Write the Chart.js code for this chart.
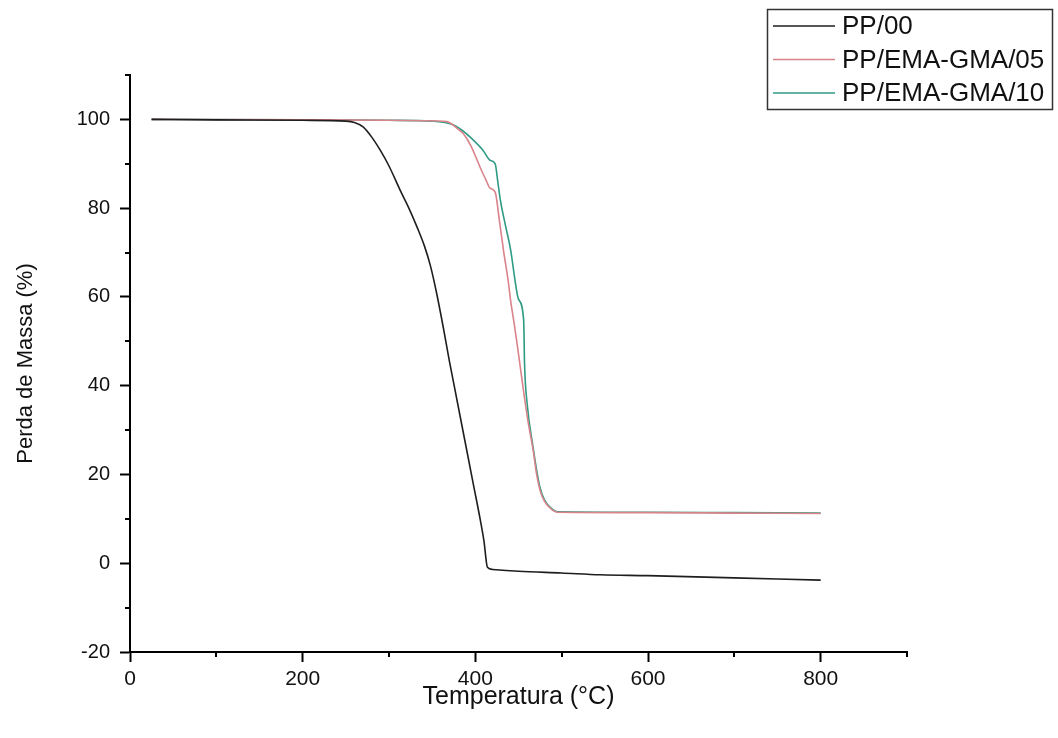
<!DOCTYPE html>
<html>
<head>
<meta charset="utf-8">
<script src="https://cdn.jsdelivr.net/npm/chart.js@4/dist/chart.umd.min.js"></script>
<style>
  html, body { margin: 0; padding: 0; background: #fff; }
  canvas { display: block; }
</style>
</head>
<body>
<canvas id="chart" width="1058" height="738"></canvas>
<script>
// TGA curves: [temperature °C, mass %]
var pp00 = [
	[25, 100], [100, 99.9], [200, 99.8], [250, 99.6], [260, 99.3], [270, 98.3],
	[280, 96], [290, 93], [300, 89.5], [313, 84], [323, 80], [333, 75.5],
	[341, 71.5], [348, 67], [355, 61], [363, 53], [370, 45.5], [376, 39.5],
	[383, 32.5], [391, 24.5], [398, 17.5], [406, 9.5], [410, 5], [414, -0.9],
	[420, -1.4], [450, -1.8], [500, -2.2], [545, -2.6], [600, -2.8],
	[700, -3.3], [800, -3.8]
];
var ppEma05 = [
	[25, 100], [200, 99.9], [300, 99.8], [340, 99.7], [367, 99.5], [380, 97.8],
	[386, 96.8], [395, 94], [406, 89], [412, 86.5], [417, 84.5], [423, 83.6],
	[428, 77], [433, 70], [438, 63.7], [441, 59], [445, 54], [449, 48.6],
	[455, 40], [461, 32], [467, 25.4], [471, 20], [475, 16.4], [480, 14],
	[489, 12], [495, 11.5], [600, 11.4], [700, 11.3], [800, 11.2]
];
var ppEma10 = [
	[25, 100], [200, 99.9], [300, 99.8], [350, 99.6], [371, 99], [385, 97.5],
	[394, 96], [409, 93], [417, 90.8], [423, 90], [426, 86], [429, 81.8],
	[435, 76], [441, 70.5], [446, 63.7], [450, 59.5], [456, 54.7], [457, 45],
	[460, 36], [467, 26], [471, 21], [475, 17], [480, 14.3], [489, 12.2],
	[495, 11.6], [600, 11.5], [700, 11.4], [800, 11.3]
];
var seriesNames = ["PP/00", "PP/EMA-GMA/05", "PP/EMA-GMA/10"];
var seriesColors = ["#1e1e1e", "#d9838b", "#2f9b84"];

function toPoints(rows) {
	return rows.map(function (r) { return {x: r[0], y: r[1]}; });
}

function isMajor(axis, value) {
	var step = axis === "x" ? 200 : 20;
	return Math.abs(value % step) < 1e-6;
}

// minor ticks (Origin style, shorter than the major ones)
var minorTicks = {
	id: "minorTicks",
	afterDraw: function (chart) {
		var ctx = chart.ctx;
		ctx.save();
		ctx.strokeStyle = "#000";
		ctx.lineWidth = 2;
		["x", "y"].forEach(function (id) {
			var scale = chart.scales[id];
			scale.ticks.forEach(function (t) {
				if (isMajor(id, t.value)) return;
				var p = Math.round(scale.getPixelForValue(t.value));
				ctx.beginPath();
				if (id === "x") {
					ctx.moveTo(p, scale.top);
					ctx.lineTo(p, scale.top + 5);
				} else {
					ctx.moveTo(scale.right, p);
					ctx.lineTo(scale.right - 5, p);
				}
				ctx.stroke();
			});
		});
		ctx.restore();
	}
};

// boxed legend in the top right corner
var boxLegend = {
	id: "boxLegend",
	afterDraw: function (chart) {
		var ctx = chart.ctx;
		ctx.save();
		ctx.strokeStyle = "#333";
		ctx.lineWidth = 1.5;
		ctx.strokeRect(767.5, 9.5, 285, 100);
		ctx.font = "26px 'Liberation Sans', Arial, sans-serif";
		ctx.textBaseline = "middle";
		ctx.fillStyle = "#111";
		chart.data.datasets.forEach(function (ds, i) {
			var y = 26 + i * 33.5;
			ctx.strokeStyle = ds.borderColor;
			ctx.lineWidth = 1.5;
			ctx.beginPath();
			ctx.moveTo(773, y);
			ctx.lineTo(835, y);
			ctx.stroke();
			ctx.fillText(ds.label, 842, y + 1);
		});
		ctx.restore();
	}
};

var font = "'Liberation Sans', Arial, sans-serif";

new Chart(document.getElementById("chart"), {
	type: "scatter",
	data: {
		datasets: [pp00, ppEma05, ppEma10].map(function (rows, i) {
			return {
				label: seriesNames[i],
				data: toPoints(rows),
				showLine: true,
				borderColor: seriesColors[i],
				backgroundColor: seriesColors[i],
				borderWidth: 1.6,
				pointRadius: 0,
				cubicInterpolationMode: "monotone"
			};
		})
	},
	options: {
		responsive: false,
		animation: false,
		layout: {padding: {left: 0, right: 151, top: 75, bottom: 0}},
		plugins: {
			legend: {display: false},
			tooltip: {enabled: false}
		},
		scales: {
			x: {
				type: "linear",
				min: 0,
				max: 900,
				afterFit: function (s) { s.height = 86; },
				border: {display: true, color: "#000", width: 2},
				grid: {
					drawOnChartArea: false,
					drawTicks: true,
					tickLength: 10,
					tickWidth: 2,
					tickColor: function (c) {
						return c.tick && isMajor("x", c.tick.value) ? "#000" : "rgba(0,0,0,0)";
					}
				},
				ticks: {
					stepSize: 100,
					padding: 5,
					color: "#111",
					font: {family: font, size: 21},
					maxRotation: 0,
					autoSkip: false,
					callback: function (v) { return v % 200 === 0 && v <= 800 ? String(v) : ""; }
				},
				title: {
					display: true,
					text: "Temperatura (°C)",
					color: "#111",
					font: {family: font, size: 25},
					padding: {top: 0, bottom: 26}
				}
			},
			y: {
				type: "linear",
				min: -20,
				max: 110,
				afterFit: function (s) { s.width = 130; },
				border: {display: true, color: "#000", width: 2},
				grid: {
					drawOnChartArea: false,
					drawTicks: true,
					tickLength: 10,
					tickWidth: 2,
					tickColor: function (c) {
						return c.tick && isMajor("y", c.tick.value) ? "#000" : "rgba(0,0,0,0)";
					}
				},
				ticks: {
					stepSize: 10,
					padding: 10,
					color: "#111",
					font: {family: font, size: 20},
					autoSkip: false,
					callback: function (v) { return v % 20 === 0 && v <= 100 ? String(v) : ""; }
				},
				title: {
					display: true,
					text: "Perda de Massa (%)",
					color: "#111",
					font: {family: font, size: 22},
					padding: {top: 13, bottom: 0}
				}
			}
		}
	},
	plugins: [minorTicks, boxLegend]
});
</script>
</body>
</html>
